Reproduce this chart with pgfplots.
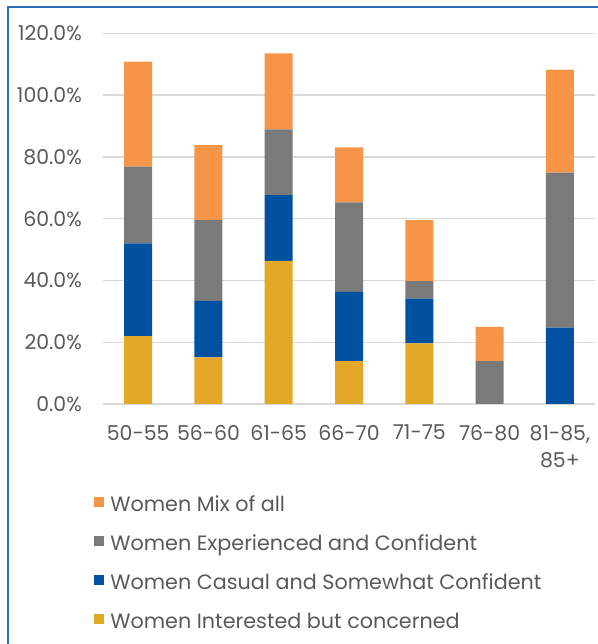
\documentclass[border=0pt]{standalone}
\usepackage{pgfplots}
\pgfplotsset{compat=1.18}
\usepackage{pgfplotstable}
\usepackage{fontspec}
\setmainfont{Poppins}
\definecolor{cOrange}{HTML}{F69548}
\definecolor{cGray}{HTML}{7A7A7A}
\definecolor{cBlue}{HTML}{0052A0}
\definecolor{cGold}{HTML}{E3A828}
\definecolor{cGrid}{HTML}{D9D9D9}
\definecolor{cText}{HTML}{595959}
\definecolor{cFrame}{HTML}{2F6EBA}
\pgfplotstableread{
x gold blue gray orange
0 22.0 30.0 24.8 34.0
1 15.1 18.3 26.1 24.3
2 46.3 21.3 21.3 24.6
3 13.9 22.4 29.0 17.8
4 19.6 14.5 5.7 19.7
5 0 0 13.9 11.1
6 0 24.7 50.2 33.3
}\datatable
\begin{document}
\begin{tikzpicture}[x=1bp,y=1bp]
\useasboundingbox (0,0) rectangle (598,644);
\draw[cFrame, line width=1.6bp] (8,0) -- (8,637) -- (598,637);
\begin{axis}[
  at={(103bp,240bp)}, anchor=south west,
  scale only axis, width=492bp, height=370.7bp,
  ybar stacked, bar width=28bp,
  xmin=-0.5, xmax=6.5, ymin=0, ymax=120,
  xtick={0,...,6},
  xticklabels={50-55,56-60,61-65,66-70,71-75,76-80,{81-85,\\[3bp]85+}},
  ytick={0,20,...,120},
  yticklabel={\pgfmathprintnumber[fixed,fixed zerofill,precision=1]{\tick}\%},
  /pgf/number format/assume math mode=true,
  major tick length=0pt,
  axis line style={draw=none},
  ymajorgrids, grid style={cGrid, line width=1.3bp},
  tick label style={font=\fontsize{20.5}{24}\selectfont, text=cText},
  yticklabel style={inner sep=0pt, xshift=-21bp},
  xticklabel style={inner sep=0pt, yshift=-21bp, align=center},
  legend image code/.code={\fill[#1] (0bp,-1bp) rectangle (10bp,9bp);},
  reverse legend,
  legend cell align=left,
  legend style={at={(-0.024,-0.245)}, anchor=north west, draw=none, fill=none,
    font=\fontsize{20.8}{24}\selectfont, text=cText,
    column sep=6bp, row sep=21bp,
    nodes={inner sep=0pt, text height=14bp, text depth=4bp}},
]
\addplot[fill=cGold, draw=none] table[x=x, y=gold] {\datatable};
\addlegendentry{Women Interested but concerned}
\addplot[fill=cBlue, draw=none] table[x=x, y=blue] {\datatable};
\addlegendentry{Women Casual and Somewhat Confident}
\addplot[fill=cGray, draw=none] table[x=x, y=gray] {\datatable};
\addlegendentry{Women Experienced and Confident}
\addplot[fill=cOrange, draw=none] table[x=x, y=orange] {\datatable};
\addlegendentry{Women Mix of all}
\end{axis}
\end{tikzpicture}
\end{document}
